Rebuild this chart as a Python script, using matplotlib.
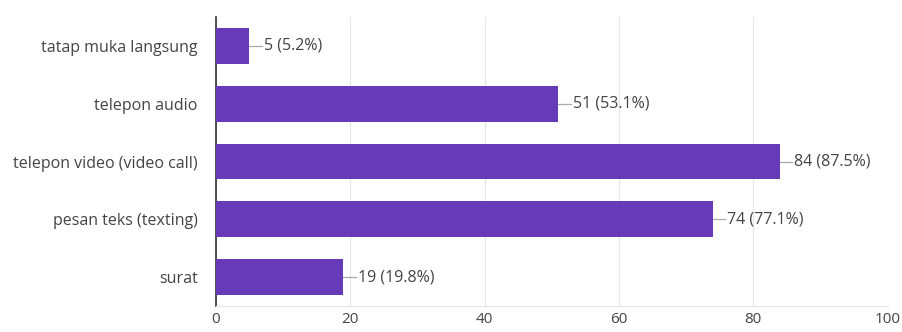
import matplotlib.pyplot as plt

# Data
categories = ["tatap muka langsung", "telepon audio", "telepon video (video call)",
              "pesan teks (texting)", "surat"]
counts = [5, 51, 84, 74, 19]
percents = [5.2, 53.1, 87.5, 77.1, 19.8]
x_ticks = [0, 20, 40, 60, 80, 100]

bar_color = "#673ab7"
text_color = "#444444"

plt.rcParams["font.family"] = ["Open Sans", "DejaVu Sans"]

fig = plt.figure(figsize=(9.03, 3.32), dpi=100)
ax = fig.add_axes([0.239, 0.078, 0.744, 0.871])

y_pos = list(range(len(categories)))
ax.barh(y_pos, counts, height=0.62, color=bar_color, zorder=3)

# labels with short leader lines
for y, c, p in zip(y_pos, counts, percents):
    ax.plot([c, c + 1.8], [y, y], color="#aaaaaa", lw=0.9, zorder=2)
    ax.text(c + 2.1, y, f"{c} ({p}%)", va="center", ha="left",
            fontsize=11.5, color=text_color)

ax.set_ylim(len(categories) - 0.5, -0.5)
ax.set_xlim(0, 100)
ax.set_yticks(y_pos)
ax.set_yticklabels(categories, fontsize=11.5, color=text_color)
ax.set_xticks(x_ticks)
ax.set_xticklabels([str(t) for t in x_ticks], fontsize=11, color=text_color)
ax.tick_params(axis="y", length=0, pad=13)
ax.tick_params(axis="x", length=0, pad=4)

ax.grid(axis="x", color="#e6e6e6", lw=0.8, zorder=0)
for side in ["top", "right"]:
    ax.spines[side].set_visible(False)
ax.spines["bottom"].set_color("#e6e6e6")
ax.spines["left"].set_color("#333333")
ax.spines["left"].set_linewidth(1.2)

fig.savefig("out.png", dpi=100)
